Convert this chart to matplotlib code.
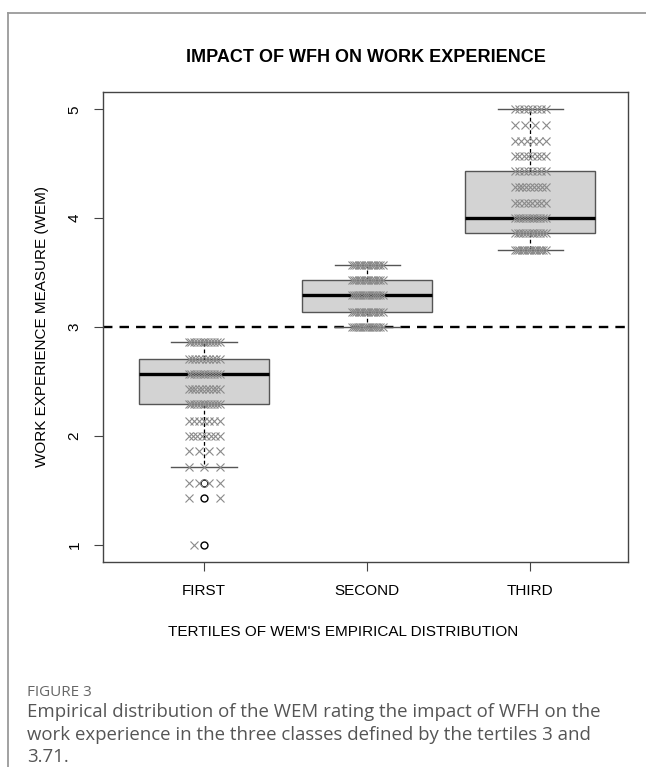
import numpy as np
import matplotlib
matplotlib.use("Agg")
import matplotlib.pyplot as plt
from matplotlib.lines import Line2D

# tertile classes
groups = ["FIRST", "SECOND", "THIRD"]

# WEM levels (means of 7 items) and how many respondents sit on each level
first_levels = [1.00, 1.43, 1.57, 1.71, 1.86, 2.00, 2.14, 2.29, 2.43, 2.57, 2.71, 2.86]
first_counts = [1, 2, 4, 3, 4, 8, 7, 12, 10, 12, 10, 12]
second_levels = [3.00, 3.14, 3.29, 3.43, 3.57]
second_counts = [15, 14, 15, 14, 14]
third_levels = [3.71, 3.86, 4.00, 4.14, 4.29, 4.43, 4.57, 4.71, 4.86, 5.00]
third_counts = [14, 12, 12, 8, 9, 8, 8, 6, 4, 8]

# box statistics
q1 = [2.29, 3.14, 3.86]
med = [2.57, 3.29, 4.00]
q3 = [2.71, 3.43, 4.43]
whislo = [1.71, 3.00, 3.71]
whishi = [2.86, 3.57, 5.00]
fliers = [[1.00, 1.43, 1.57], [], []]

threshold = 3.0

W, H = 646, 767
fig = plt.figure(figsize=(W / 100, H / 100), dpi=100)
plt.rcParams['font.family'] = ['Liberation Sans', 'DejaVu Sans']

ax = fig.add_axes([103 / W, 1 - 562 / H, (628 - 103) / W, (562 - 92) / H])

stats = []
for i in range(3):
    stats.append(dict(q1=q1[i], med=med[i], q3=q3[i], whislo=whislo[i],
                      whishi=whishi[i], fliers=fliers[i]))

ax.bxp(stats, positions=[1, 2, 3], widths=0.8, patch_artist=True,
       boxprops=dict(facecolor="#d3d3d3", edgecolor="#555555", linewidth=1.0),
       medianprops=dict(color="black", linewidth=2.4),
       whiskerprops=dict(color="black", linewidth=0.9, linestyle=(0, (3, 2))),
       capprops=dict(color="#555555", linewidth=1.0),
       capwidths=0.4,
       flierprops=dict(marker="o", markerfacecolor="none", markeredgecolor="black",
                       markersize=5, markeredgewidth=1.0),
       zorder=2)

ax.axhline(threshold, color="black", linewidth=1.7, dashes=(4, 3), zorder=1)

# jittered points
all_levels = [first_levels, second_levels, third_levels]
all_counts = [first_counts, second_counts, third_counts]
for pos, (levels, counts) in enumerate(zip(all_levels, all_counts), start=1):
    for lev, n in zip(levels, counts):
        if n == 1:
            offs = np.array([-0.06])
        else:
            offs = np.linspace(-0.095, 0.095, n)
        ax.plot(pos + offs, np.full(n, lev), linestyle="none", marker="x",
                color="#8a8a8a", markersize=6.2, markeredgewidth=0.8, zorder=3)

ax.set_xlim(0.38, 3.6)
ax.set_ylim(0.84, 5.16)
ax.set_xticks([1, 2, 3])
ax.set_xticklabels(groups)
ax.set_yticks([1, 2, 3, 4, 5])
ax.set_yticklabels(["1", "2", "3", "4", "5"], rotation=90, va="center")
ax.tick_params(axis="both", length=6.5, width=0.8, color="#444444",
               labelsize=11, pad=9)
for s in ax.spines.values():
    s.set_color("#444444")
    s.set_linewidth(1.0)

fig.text(366 / W, 1 - 57 / H, "IMPACT OF WFH ON WORK EXPERIENCE",
         ha="center", va="center", fontsize=13, fontweight="bold")
fig.text(343 / W, 1 - 632 / H, "TERTILES OF WEM'S EMPIRICAL DISTRIBUTION",
         ha="center", va="center", fontsize=11)
fig.text(42 / W, 1 - 327 / H, "WORK EXPERIENCE MEASURE (WEM)",
         ha="center", va="center", fontsize=11, rotation=90)

# card frame
fig.add_artist(Line2D([8 / W, 8 / W], [0, 1 - 13 / H], color="#9a9a9a",
                      linewidth=1.3, transform=fig.transFigure))
fig.add_artist(Line2D([8 / W, 1], [1 - 13 / H, 1 - 13 / H], color="#9a9a9a",
                      linewidth=1.3, transform=fig.transFigure))

# caption
fig.text(27 / W, 1 - 692 / H, "FIGURE 3", ha="left", va="center",
         fontsize=11, color="#666666", family=["Open Sans", "DejaVu Sans"])
caption = ["Empirical distribution of the WEM rating the impact of WFH on the",
           "work experience in the three classes defined by the tertiles 3 and",
           "3.71."]
for k, line in enumerate(caption):
    fig.text(27 / W, 1 - (712 + 22.5 * k) / H, line, ha="left", va="center",
             fontsize=13.4, color="#555555", family=["Open Sans", "DejaVu Sans"])

fig.savefig("out.png", dpi=100)
